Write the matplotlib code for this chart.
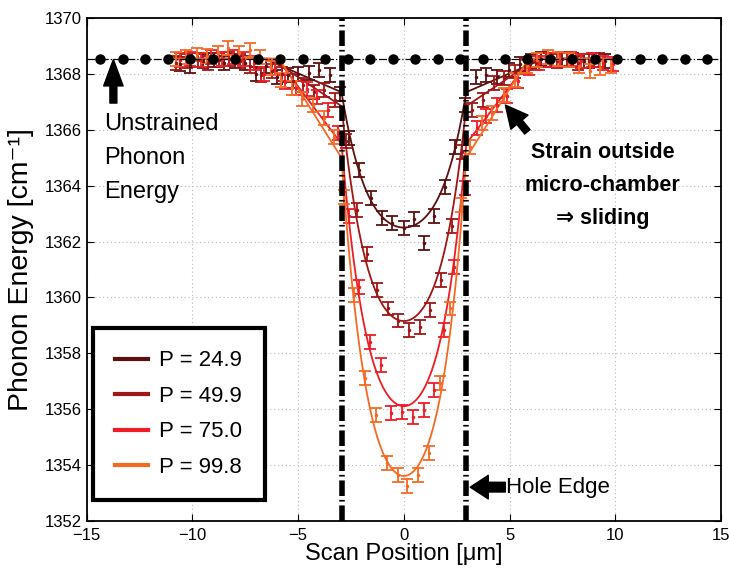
import numpy as np
import matplotlib
matplotlib.use('Agg')
import matplotlib.pyplot as plt

plt.rcParams['font.family'] = ['Liberation Sans', 'DejaVu Sans']

# ---- data ----
labels = ['P = 24.9', 'P = 49.9', 'P = 75.0', 'P = 99.8']
colors = ['#5C1111', '#A01616', '#EE1C25', '#F46A25']

x_249 = [-10.6, -10.1, -9.5, -9.0, -8.5, -8.0, -7.5, -7.0, -6.5, -6.0, -5.5, -5.0, -4.5, -4.0,
         -3.5, -3.0, -2.6, -2.1, -1.56, -1.04, -0.54, 0.0, 0.46, 0.96, 1.44, 1.96, 2.43, 2.9,
         3.4, 3.9, 4.4, 4.95, 5.5, 6.0, 6.5, 7.0, 7.5, 8.0, 8.5, 9.0, 9.5]
y_249 = [1368.35, 1368.3, 1368.45, 1368.5, 1368.4, 1368.45, 1368.38, 1368.0, 1368.3, 1367.9,
         1367.95, 1368.0, 1368.05, 1368.15, 1367.95, 1367.3, 1365.7, 1364.55, 1363.55, 1362.85,
         1362.65, 1362.47, 1362.8, 1361.96, 1362.9, 1363.95, 1365.4, 1366.9, 1367.9, 1367.97,
         1367.9, 1368.15, 1368.35, 1368.45, 1368.55, 1368.5, 1368.55, 1368.5, 1368.45, 1368.5,
         1368.45]

x_499 = [-10.76, -10.26, -9.76, -9.26, -8.76, -8.26, -7.76, -7.26, -6.76, -6.26, -5.76, -5.26,
         -4.76, -4.26, -3.76, -3.26, -2.73, -2.23, -1.76, -1.27, -0.76, -0.26, 0.22, 0.74, 1.25,
         1.75, 2.27, 2.74, 3.24, 3.74, 4.24, 4.74, 5.24, 5.74, 6.24, 6.74, 7.24, 7.74, 8.24,
         8.74, 9.24]
y_499 = [1368.4, 1368.45, 1368.5, 1368.4, 1368.5, 1368.55, 1368.45, 1368.3, 1367.95, 1368.1,
         1368.0, 1367.75, 1367.6, 1367.37, 1367.43, 1367.07, 1365.6, 1363.13, 1361.55, 1360.26,
         1359.6, 1359.17, 1358.83, 1358.95, 1359.53, 1360.62, 1362.57, 1365.2, 1366.71, 1367.07,
         1367.67, 1367.85, 1368.09, 1368.3, 1368.4, 1368.5, 1368.45, 1368.55, 1368.4, 1368.45,
         1368.5]

x_750 = [-10.6, -10.1, -9.6, -9.1, -8.6, -8.1, -7.6, -7.1, -6.6, -6.1, -5.6, -5.1, -4.6, -4.1,
         -3.6, -3.1, -2.6, -2.1, -1.6, -1.09, -0.62, -0.1, 0.43, 0.93, 1.44, 1.91, 2.35, 2.9,
         3.46, 3.9, 4.4, 4.9, 5.4, 5.9, 6.4, 6.9, 7.4, 7.9, 8.4, 8.9, 9.4, 9.9]
y_750 = [1368.5, 1368.55, 1368.5, 1368.6, 1368.55, 1368.6, 1368.55, 1368.4, 1368.0, 1368.2,
         1367.7, 1367.5, 1367.45, 1367.19, 1366.71, 1365.9, 1362.9, 1360.38, 1358.41, 1357.57,
         1355.84, 1355.9, 1355.72, 1355.96, 1356.68, 1358.83, 1361.1, 1363.9, 1366.06, 1366.5,
         1366.9, 1367.2, 1367.75, 1368.2, 1368.4, 1368.5, 1368.5, 1368.55, 1368.45, 1368.5,
         1368.4, 1368.35]

x_998 = [-10.8, -10.3, -9.8, -9.3, -8.8, -8.3, -7.8, -7.3, -6.8, -6.3, -5.8, -5.3, -4.8, -4.3,
         -3.8, -3.3, -2.85, -2.35, -1.83, -1.31, -0.81, -0.3, 0.17, 0.66, 1.17, 1.69, 2.19, 2.7,
         3.14, 3.7, 4.17, 4.72, 5.28, 5.83, 6.3, 6.8, 7.3, 7.8, 8.3, 8.8, 9.3, 9.8]
y_998 = [1368.55, 1368.6, 1368.7, 1368.65, 1368.75, 1368.92, 1368.75, 1368.86, 1368.6, 1368.2,
         1367.8, 1367.5, 1367.1, 1366.89, 1366.42, 1365.76, 1363.6, 1360.08, 1357.1, 1355.78,
         1354.07, 1353.63, 1353.25, 1353.63, 1354.41, 1356.92, 1359.6, 1363.3, 1365.4, 1366.23,
         1366.59, 1367.25, 1367.79, 1368.27, 1368.5, 1368.6, 1368.55, 1368.5, 1368.3, 1368.1,
         1368.2, 1368.3]

y_err = [0.25, 0.25, 0.25, 0.25]

# fit parameters: value at centre, value at hole edge, where the fit rejoins the flat level
fit_center = [1362.5, 1359.15, 1356.1, 1353.6]
fit_edge = [1367.35, 1366.85, 1365.5, 1365.0]
fit_flat = [6.6, 6.3, 6.0, 5.9]
fit_quad = 0.6  # weight of u^2 vs u^4 in the inner profile

ref_level = 1368.55   # unstrained phonon energy
hole_edge = 2.95

xs = [x_249, x_499, x_750, x_998]
ys = [y_249, y_499, y_750, y_998]


def fit_curve(x, c, e, x0):
    u = np.abs(x) / hole_edge
    inner = c + (e - c) * (fit_quad * u**2 + (1 - fit_quad) * u**4)
    outer = e + (ref_level - e) * (np.abs(x) - hole_edge) / (x0 - hole_edge)
    outer = np.minimum(outer, ref_level)
    return np.where(u <= 1, inner, outer)


fig = plt.figure(figsize=(7.29, 5.69), dpi=100)
ax = fig.add_axes([0.119, 0.085, 0.870, 0.883])

xf = np.linspace(-11, 10, 2001)
for i in range(4):
    ax.plot(xf, fit_curve(xf, fit_center[i], fit_edge[i], fit_flat[i]),
            color=colors[i], lw=1.3, zorder=3, label=labels[i])
    ax.errorbar(xs[i], ys[i], yerr=y_err[i], fmt='.', ms=3, color=colors[i],
                ecolor=colors[i], elinewidth=1.3, capsize=4, capthick=1.3, zorder=3)

# unstrained reference line with dots
ax.axhline(ref_level, color='k', ls='-.', lw=0.9, zorder=4)
ax.plot(np.linspace(-14.35, 14.35, 28), [ref_level] * 28, 'o', color='k', ms=6.5, zorder=4)

# hole edges
for xe in (-hole_edge, hole_edge):
    ax.axvline(xe, color='k', lw=4, ls=(0, (2.8, 0.7, 0.3, 0.7)), zorder=5)

ax.set_xlim(-15, 15)
ax.set_ylim(1352, 1370)
ax.set_xticks(np.arange(-15, 16, 5))
ax.set_yticks(np.arange(1352, 1371, 2))
ax.tick_params(direction='in', top=True, right=True, labelsize=12, length=5)
ax.tick_params(axis='x', pad=5)
ax.grid(True, ls=(0, (1, 2.5)), color='#b8b8b8', lw=0.8)
for s in ax.spines.values():
    s.set_linewidth(1.3)

ax.set_xlabel('Scan Position [μm]', fontsize=17, labelpad=0)
ax.set_ylabel('Phonon Energy [cm⁻¹]', fontsize=20.5, labelpad=8)

# annotations
ax.annotate('', xy=(-13.74, 1368.52), xytext=(-13.74, 1366.96),
            arrowprops=dict(facecolor='k', edgecolor='k', width=5, headwidth=14,
                            headlength=19, shrink=0))
ax.text(-14.2, 1366.6, 'Unstrained\nPhonon\nEnergy', fontsize=17, va='top', ha='left',
        linespacing=1.7)

ax.annotate('', xy=(4.8, 1366.89), xytext=(5.84, 1365.93),
            arrowprops=dict(facecolor='k', edgecolor='k', width=5, headwidth=16,
                            headlength=16, shrink=0))
ax.text(9.4, 1364.0, 'Strain outside\nmicro-chamber\n⇒ sliding', fontsize=15.5,
        fontweight='bold', ha='center', va='center', linespacing=1.75)

ax.annotate('', xy=(3.14, 1353.2), xytext=(4.8, 1353.2),
            arrowprops=dict(facecolor='k', edgecolor='k', width=7, headwidth=17,
                            headlength=13, shrink=0))
ax.text(4.85, 1353.2, 'Hole Edge', fontsize=16, va='center', ha='left')

leg = ax.legend(loc='lower left', bbox_to_anchor=(0.0095, 0.041), borderaxespad=0,
                fontsize=16, fancybox=False, edgecolor='k', framealpha=1,
                handlelength=1.5, handletextpad=0.5, labelspacing=0.65, borderpad=1.0)
leg.get_frame().set_linewidth(3)
for h in leg.get_lines():
    h.set_linewidth(3)

fig.savefig('out.png', dpi=100)
